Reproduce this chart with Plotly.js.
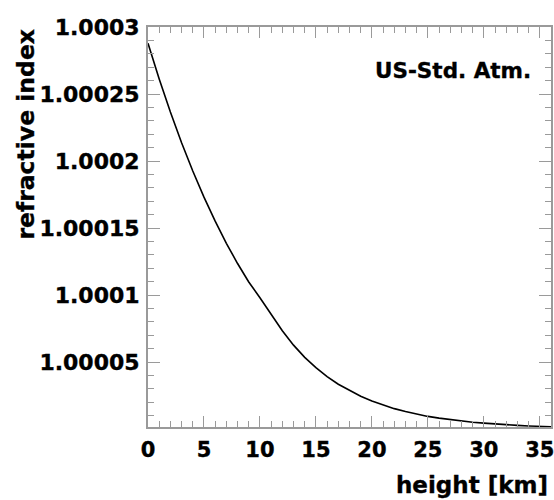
<!DOCTYPE html>
<html>
<head>
<meta charset="utf-8">
<script src="https://cdn.plot.ly/plotly-3.0.1.min.js"></script>
<style>
html,body{margin:0;padding:0;background:#fff;}
#chart{width:554px;height:500px;}
#chart svg text{stroke:#000;stroke-width:0.35px;}
</style>
</head>
<body>
<div id="chart"></div>
<script>
// height [km]
const heightKm = [0,1,2,3,4,5,6,7,8,9,10,11,12,13,14,15,16,17,18,19,20,21,22,23,24,25,26,27,28,29,30,31,32,33,34,35,36];
// refractive index
const refIndex = [1.0002878,1.0002612,1.0002365,1.0002136,1.0001925,1.0001730,1.0001551,1.0001386,1.0001235,1.0001097,
  1.0000980,1.0000857,1.0000733,1.0000626,1.0000535,1.0000458,1.0000391,1.0000334,1.0000286,1.0000244,
  1.0000209,1.0000178,1.0000152,1.0000130,1.0000110,1.0000094,1.0000081,1.0000069,1.0000059,1.0000050,
  1.0000044,1.0000037,1.0000032,1.0000027,1.0000023,1.0000020,1.0000017];
const yTickVals = [1.00005,1.0001,1.00015,1.0002,1.00025,1.0003];
const yTickText = ["1.00005","1.0001","1.00015","1.0002","1.00025","1.0003"];
const xTickVals = [0,5,10,15,20,25,30,35];
const xTickText = ["0","5","10","15","20","25","30","35"];

const FONT = "DejaVu Sans, Liberation Sans, Arial, sans-serif";
const axisCol = "#9a9a9a";

const trace = {
  x: heightKm, y: refIndex, type: "scatter", mode: "lines",
  line: {color: "#000", width: 1.6}, hoverinfo: "skip"
};

const layout = {
  width: 554, height: 500,
  margin: {l: 148, r: 3, t: 27, b: 73},
  paper_bgcolor: "#fff", plot_bgcolor: "#fff",
  showlegend: false,
  font: {family: FONT, color: "#000"},
  xaxis: {
    range: [0, 36], tickmode: "array", tickvals: xTickVals, ticktext: xTickText,
    ticks: "inside", ticklen: 11, tickwidth: 1, tickcolor: axisCol,
    minor: {dtick: 1, tick0: 0, ticks: "inside", ticklen: 6, tickcolor: axisCol, tickwidth: 1, showgrid: false},
    showline: true, linecolor: axisCol, linewidth: 2, mirror: "allticks",
    showgrid: false, zeroline: false,
    tickfont: {family: FONT, size: 21, color: "#000", weight: "bold"},
    ticklabelstandoff: 3, ticklabeloverflow: "allow"
  },
  yaxis: {
    range: [1.0000015, 1.0003], tickmode: "array", tickvals: yTickVals, ticktext: yTickText,
    ticks: "inside", ticklen: 12, tickwidth: 1, tickcolor: axisCol,
    minor: {dtick: 0.00001, tick0: 1.0, ticks: "inside", ticklen: 6, tickcolor: axisCol, tickwidth: 1, showgrid: false},
    showline: true, linecolor: axisCol, linewidth: 2, mirror: "allticks",
    showgrid: false, zeroline: false,
    tickfont: {family: FONT, size: 22, color: "#000", weight: "bold"},
    ticklabelstandoff: 2, ticklabeloverflow: "allow"
  },
  annotations: [
    {text: "<b>refractive index</b>", xref: "paper", yref: "paper", x: -0.305, y: 1.0,
     xanchor: "center", yanchor: "top", textangle: -90, showarrow: false,
     font: {family: FONT, size: 23.5, color: "#000"}},
    {text: "<b>height [km]</b>", xref: "paper", yref: "paper", x: 0.997, y: -0.145,
     xanchor: "right", yanchor: "middle", showarrow: false,
     font: {family: FONT, size: 23, color: "#000"}},
    {text: "<b>US-Std. Atm.</b>", xref: "paper", yref: "paper", x: 0.955, y: 0.8925,
     xanchor: "right", yanchor: "middle", showarrow: false,
     font: {family: FONT, size: 21.5, color: "#000"}}
  ]
};

Plotly.newPlot("chart", [trace], layout, {staticPlot: true, displayModeBar: false});
</script>
</body>
</html>
